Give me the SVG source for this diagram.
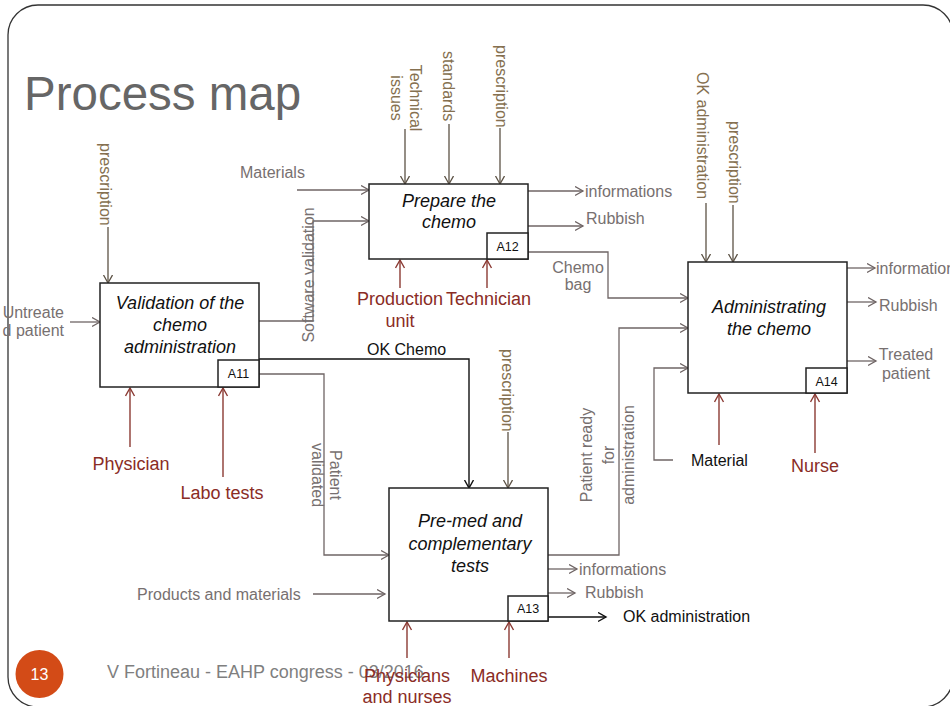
<svg xmlns="http://www.w3.org/2000/svg" width="950" height="706" viewBox="0 0 950 706">
<defs>
<style>
text{font-family:"Liberation Sans",Arial,sans-serif;}
.box{fill:#fff;stroke:#222;stroke-width:1.5;}
.tag{fill:#fff;stroke:#222;stroke-width:1.5;}
.bt{font-size:18px;font-style:italic;fill:#111;text-anchor:middle;}
.tg{font-size:12.5px;fill:#111;text-anchor:middle;}
.gl{font-size:16px;fill:#777070;}
.ol{font-size:16px;fill:#857050;}
.rd{font-size:18px;fill:#8a2c25;}
.bk{font-size:16px;fill:#111;}
.mid{text-anchor:middle;}
.cg{fill:none;stroke:#6f6565;stroke-width:1.3;marker-end:url(#ag);}
.co{fill:none;stroke:#5c5245;stroke-width:1.3;marker-end:url(#ao);}
.ck{fill:none;stroke:#111;stroke-width:1.4;marker-end:url(#ak);}
.cr{fill:none;stroke:#8b3a33;stroke-width:1.4;marker-end:url(#ar);}
</style>
<marker id="ag" markerUnits="userSpaceOnUse" markerWidth="10" markerHeight="12" refX="8.5" refY="5" orient="auto"><path d="M0.5,0.5 L8.5,5 L0.5,9.5" fill="none" stroke="#6f6565" stroke-width="1.3"/></marker>
<marker id="ao" markerUnits="userSpaceOnUse" markerWidth="10" markerHeight="12" refX="8.5" refY="5" orient="auto"><path d="M0.5,0.5 L8.5,5 L0.5,9.5" fill="none" stroke="#5c5245" stroke-width="1.3"/></marker>
<marker id="ak" markerUnits="userSpaceOnUse" markerWidth="10" markerHeight="12" refX="8.5" refY="5" orient="auto"><path d="M0.5,0.5 L8.5,5 L0.5,9.5" fill="none" stroke="#111" stroke-width="1.4"/></marker>
<marker id="ar" markerUnits="userSpaceOnUse" markerWidth="10" markerHeight="12" refX="8.5" refY="5" orient="auto"><path d="M0.5,0.5 L8.5,5 L0.5,9.5" fill="none" stroke="#8b3a33" stroke-width="1.4"/></marker>
</defs>
<rect x="0" y="0" width="950" height="706" fill="#fff"/>
<rect id="frame" x="8" y="5" width="945" height="702" rx="30" ry="30" fill="none" stroke="#333" stroke-width="1.3"/>
<text x="24" y="110" font-size="47.5" fill="#666">Process map</text>

<g id="connectors">
<path class="cg" d="M70,322 H100"/>
<path class="co" d="M108,227 V283"/>
<path class="cg" d="M259,321 H313 V221 H369"/>
<path class="cg" d="M297,190 H369"/>
<path class="co" d="M405,129 V184"/>
<path class="co" d="M449,124 V184"/>
<path class="co" d="M500,128 V184"/>
<path class="cg" d="M528,191 H583"/>
<path class="cg" d="M528,226 H583"/>
<path class="cg" d="M528,252 H608 V298 H688"/>
<path class="co" d="M706,203 V262"/>
<path class="co" d="M733,205 V262"/>
<path class="cg" d="M548,555 H619 V328 H688"/>
<path class="cg" d="M673,460 H654 V368 H688"/>
<path class="cg" d="M847,268 H875"/>
<path class="cg" d="M847,302 H876"/>
<path class="cg" d="M847,361 H876"/>
<path class="cg" d="M259,374 H324 V555 H389"/>
<path class="co" d="M508,432 V488"/>
<path class="cg" d="M313,594 H385"/>
<path class="cg" d="M548,569 H577"/>
<path class="cg" d="M548,593 H575"/>
<path class="ck" d="M244,359 H469 V488"/>
<path class="ck" d="M548,617 H606"/>
<path class="cr" d="M130,447 V388"/>
<path class="cr" d="M223,477 V388"/>
<path class="cr" d="M400,288 V260"/>
<path class="cr" d="M487,288 V260"/>
<path class="cr" d="M407,658 V622"/>
<path class="cr" d="M509,658 V622"/>
<path class="cr" d="M719,445 V394"/>
<path class="cr" d="M815,453 V394"/>
</g>

<g id="A11">
<rect class="box" x="100" y="283" width="159" height="104"/>
<rect class="tag" x="218" y="360" width="41" height="27"/>
<text class="bt" x="180" y="309">Validation of the</text>
<text class="bt" x="180" y="331">chemo</text>
<text class="bt" x="180" y="353">administration</text>
<text class="tg" x="238.5" y="378">A11</text>
</g>
<g id="A12">
<rect class="box" x="369" y="184" width="159" height="75"/>
<rect class="tag" x="487" y="233" width="41" height="26"/>
<text class="bt" x="449" y="207">Prepare the</text>
<text class="bt" x="449" y="228">chemo</text>
<text class="tg" x="507.5" y="251">A12</text>
</g>
<g id="A13">
<rect class="box" x="389" y="488" width="159" height="133"/>
<rect class="tag" x="508" y="596" width="40" height="25"/>
<text class="bt" x="470" y="527">Pre-med and</text>
<text class="bt" x="470" y="550">complementary</text>
<text class="bt" x="470" y="572">tests</text>
<text class="tg" x="528" y="613">A13</text>
</g>
<g id="A14">
<rect class="box" x="688" y="262" width="159" height="131"/>
<rect class="tag" x="806" y="368" width="41" height="25"/>
<text class="bt" x="769" y="313">Administrating</text>
<text class="bt" x="769" y="335">the chemo</text>
<text class="tg" x="826.5" y="386">A14</text>
</g>

<g id="labels">
<text class="gl" x="64" y="318" text-anchor="end">Untreate</text>
<text class="gl" x="64" y="336" text-anchor="end">d patient</text>
<text class="ol" transform="translate(100,143) rotate(90)">prescription</text>
<text class="gl" transform="translate(313.5,275) rotate(-90)" text-anchor="middle">Software validation</text>
<text class="gl" x="240" y="178">Materials</text>
<text class="ol" transform="translate(410,98) rotate(90)" text-anchor="middle">Technical</text>
<text class="ol" transform="translate(391,98) rotate(90)" text-anchor="middle">issues</text>
<text class="ol" transform="translate(443,51) rotate(90)">standards</text>
<text class="ol" transform="translate(496,45) rotate(90)">prescription</text>
<text class="gl" x="585" y="197">informations</text>
<text class="gl" x="586" y="224">Rubbish</text>
<text class="gl mid" x="578" y="273">Chemo</text>
<text class="gl mid" x="578" y="290">bag</text>
<text class="ol" transform="translate(697,72) rotate(90)">OK administration</text>
<text class="ol" transform="translate(729,121) rotate(90)">prescription</text>
<text class="gl" x="876" y="274">informations</text>
<text class="gl" x="879" y="311">Rubbish</text>
<text class="gl mid" x="906" y="360">Treated</text>
<text class="gl mid" x="906" y="379">patient</text>
<text class="bk" x="367" y="355">OK Chemo</text>
<text class="gl" transform="translate(330,475) rotate(90)" text-anchor="middle">Patient</text>
<text class="gl" transform="translate(312,475) rotate(90)" text-anchor="middle">validated</text>
<text class="ol" transform="translate(502,349) rotate(90)">prescription</text>
<text class="gl" transform="translate(591.5,455) rotate(-90)" text-anchor="middle">Patient ready</text>
<text class="gl" transform="translate(613.5,455) rotate(-90)" text-anchor="middle">for</text>
<text class="gl" transform="translate(633.5,455) rotate(-90)" text-anchor="middle">administration</text>
<text class="gl" x="137" y="600">Products and materials</text>
<text class="gl" x="579" y="575">informations</text>
<text class="gl" x="585" y="598">Rubbish</text>
<text class="bk" x="623" y="622">OK administration</text>
<text class="bk" x="691" y="466">Material</text>
<text class="rd mid" x="131" y="470">Physician</text>
<text class="rd mid" x="222" y="499">Labo tests</text>
<text class="rd mid" x="400" y="305">Production</text>
<text class="rd mid" x="400" y="327">unit</text>
<text class="rd mid" x="488.5" y="305">Technician</text>
<text class="rd mid" x="815" y="472">Nurse</text>
</g>

<g id="footer">
<circle cx="39.5" cy="674" r="24" fill="#d34b17"/>
<text x="39.5" y="680" font-size="16" fill="#fff" text-anchor="middle">13</text>
<text x="107" y="678" font-size="18" fill="#7f7f7f">V Fortineau - EAHP congress - 03/2016</text>
</g>
<g id="mechanisms-bottom">
<text class="rd mid" x="407" y="682">Physicians</text>
<text class="rd mid" x="407" y="703">and nurses</text>
<text class="rd mid" x="509" y="682">Machines</text>
</g>
</svg>
